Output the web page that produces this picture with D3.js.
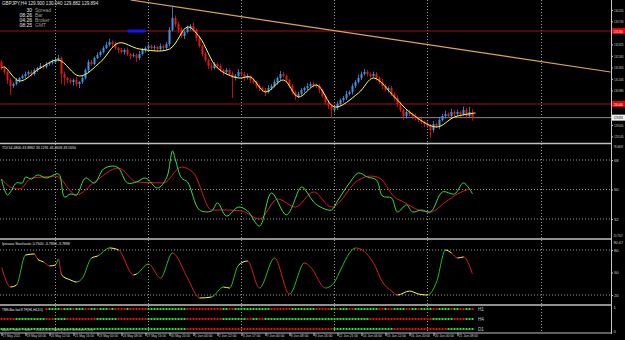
<!DOCTYPE html>
<html>
<head>
<meta charset="utf-8">
<script src="https://cdn.jsdelivr.net/npm/d3@7"></script>
<style>
  body { margin: 0; background: #000; }
  svg { display: block; font-family: "Liberation Sans", Arial, sans-serif; }
  .ax path, .ax line { stroke: #c8c8c8; }
  .ax text { fill: #d0d0d0; font-size: 4.2px; }
</style>
</head>
<body>
<div id="canvas"></div>
<script>
// ---- data ----
const symbolLine = "GBPJPY,H4  129.900 130.040 129.882 129.894";
const infoNums = ["30", "08:26", "04:26", "08:25"];
const infoNames = ["Spread", "Bar", "Broker", "GMT"];

const firstOpen = 132.12;
const closes = [
  131.88,131.72,131.40,131.16,131.24,131.40,131.48,131.56,131.64,131.72,
  131.64,131.80,131.88,131.96,131.92,132.04,132.08,132.12,132.20,132.28,
  131.64,131.48,131.40,131.32,131.40,131.24,131.32,131.48,131.80,132.12,
  132.04,132.28,132.40,132.52,132.68,132.80,132.92,132.84,132.68,132.60,
  132.52,132.60,132.44,132.36,132.40,132.28,132.44,132.60,132.68,132.76,
  132.68,132.72,132.64,132.76,132.68,132.84,133.40,133.88,133.64,133.40,
  133.16,133.32,133.48,133.56,133.40,133.08,132.76,132.44,132.20,131.96,
  131.88,132.04,131.96,131.80,131.72,131.80,131.64,131.48,131.56,131.72,
  131.64,131.48,131.56,131.40,131.32,131.16,131.08,131.00,130.92,131.08,
  131.16,131.32,131.48,131.64,131.56,131.40,131.16,130.92,130.76,130.84,
  131.00,131.08,131.16,131.24,131.20,131.16,131.00,130.76,130.52,130.36,
  130.20,130.28,130.44,130.60,130.68,130.84,130.92,131.16,131.32,131.48,
  131.64,131.72,131.64,131.56,131.64,131.48,131.32,131.16,131.00,131.08,
  130.84,130.68,130.44,130.20,129.96,130.12,130.04,129.96,129.88,129.80,
  129.72,129.64,129.56,129.40,129.64,129.56,129.80,129.96,130.04,129.96,
  130.12,130.04,130.12,130.04,130.20,129.96,130.12,129.894
];
// wick lengths in pips above / below the body
const wickUp = [
  8,4,6,10,6,8,4,6,10,6, 8,6,4,12,6,8,6,10,8,12, 6,10,4,8,6,12,4,8,6,10,
  8,6,10,6,8,12,14,6,10,4, 8,6,10,4,8,6,12,8,6,10, 6,8,4,10,6,8,12,50,10,8,
  12,6,10,8,14,6,10,4,8,6, 12,8,6,10,4,8,6,10,8,12, 6,8,10,4,8,6,10,6,8,12,
  8,10,6,12,8,6,4,8,6,10, 8,6,12,8,10,6,8,4,6,8, 6,8,10,6,8,12,6,10,8,14,
  10,12,8,6,10,8,6,12,8,6, 8,6,10,8,6,12,8,6,10,4, 8,6,10,8,12,6,10,8,14,6,
  12,8,10,6,14,8,20,10
];
const wickDn = [
  6,10,16,36,8,6,10,4,8,6, 10,6,8,4,10,6,8,6,4,6, 40,30,12,8,14,10,16,8,6,10,
  8,6,4,8,6,4,6,10,8,12, 6,10,8,12,6,16,8,6,10,8, 6,10,8,6,12,8,10,6,12,10,
  8,12,6,10,8,12,6,10,8,12, 10,6,12,8,14,10,8,80,10,6, 8,10,6,12,8,10,12,8,16,6,
  8,6,10,8,6,10,8,10,16,8, 6,10,8,6,10,8,12,8,10,12, 32,10,8,6,10,8,6,10,8,6,
  8,6,10,8,6,10,8,12,6,10, 8,10,12,8,16,10,8,12,10,8, 10,12,8,32,10,8,12,6,10,8,
  6,10,8,12,6,10,8,12
];

// moving average (yellow) read at key bars
const maBars = [0,1,6,13,19,26,33,39,46,56,62,66,72,79,83,88,94,99,105,111,119,124,131,136,145,151,158];
const maVals = [131.88,131.92,131.36,131.88,132.20,131.56,132.12,132.88,132.64,132.64,133.52,133.12,131.88,131.48,131.52,130.92,131.40,130.72,131.20,130.32,130.88,131.48,130.72,130.12,129.52,129.92,130.08];

const priceTicks = [134.205,133.745,133.285,132.825,132.365,131.905,131.445,130.985,130.525,130.065,129.605,129.145];
const redLevels = [133.360, 130.440];
const lastPrice = 129.894;
const trendBars = [43, 203];
const trendVals = [134.60, 131.72];
const boxBars = [42, 48];
const boxVals = [133.42, 133.30];

const gridBars = [18, 49, 80, 111, 142, 180];
const timeLabels = ["17 May 2011","19 May 04:00","20 May 12:00","21 May 16:00","23 May 00:00",
  "24 May 08:00","27 May 16:00","30 May 20:00","1 Jun 04:00","2 Jun 12:00","3 Jun 17:00",
  "7 Jun 00:00","8 Jun 08:00","9 Jun 16:00","12 Jun 21:00","14 Jun 04:00","15 Jun 12:00",
  "16 Jun 20:00","20 Jun 00:00","21 Jun 08:00"];

// TDI
const tdiTitle = "TDI 54.4800 43.8962 33.1291 46.2608 49.1650";
const tdiLevels = [68, 50, 32];
const tdiTop = "78.0609", tdiBottom = "20.7107";
const tdiGreenBars = [0,2,5,7,8,10,12,15,19,21,23,25,28,31,34,37,39,42,45,48,52,55,57,58,60,62,66,70,72,75,79,82,86,90,95,100,102,104,107,110,112,116,119,122,125,127,130,132,135,137,140,143,147,151,154,157];
const tdiGreen = [56.4,46.7,54.0,54.0,57.6,56.4,58.9,57.0,59.5,45.4,47.3,46.7,57.0,54.0,62.5,64.3,63.1,54.0,54.6,57.0,50.9,57.0,73.5,68.0,57.0,54.6,37.5,36.9,41.8,33.8,39.3,36.9,27.7,47.9,34.5,51.5,47.9,42.4,38.7,37.5,43.0,54.0,60.1,57.6,55.8,46.0,44.8,36.3,40.6,36.3,37.5,36.3,48.5,47.3,54.0,47.3];
const tdiRedBars = [0,3,6,10,14,18,25,31,39,45,54,60,64,70,75,80,86,92,98,104,110,119,123,126,131,134,139,143,148,152,156];
const tdiRed = [56.4,51.5,50.3,57.0,57.6,58.2,46.7,54.6,63.1,54.6,54.0,63.7,60.1,37.5,37.5,36.9,32.0,44.2,39.3,48.5,39.3,55.8,58.2,57.0,45.4,42.4,37.5,36.3,42.4,47.3,50.3];

// Stochastic
const stTitle = "Ipnuaro Stochastic 0.7500 -3.7890 -3.7898";
const stLevels = [80, 50, 20];
const stTop = "90.67";
const stBars = [0,3,5,8,11,12,14,16,18,19,20,23,25,27,30,32,36,39,44,45,49,53,57,62,66,70,74,76,79,82,86,91,96,101,103,108,111,113,116,118,124,127,130,132,136,139,142,145,148,150,152,154,157];
const stVals = [57.3,30.7,33.3,73.3,74.7,68.0,64.0,58.7,60.0,68.0,46.7,40.0,37.3,42.7,69.3,72.0,82.7,80.0,46.7,48.0,61.3,42.7,76.0,42.7,16.0,17.3,30.7,29.3,60.0,65.3,29.3,69.3,21.3,62.7,57.3,29.3,37.3,53.3,76.0,82.7,62.7,37.3,25.3,20.0,25.3,21.3,20.0,37.3,80.0,76.0,69.3,70.7,48.0];

// multi-timeframe dots
const dotTitle = "TMS-Bar-Ival 8 TF(H1,H4,D1)";
const dotCopy = "Alpari Power Trader \u00a9 2001-2011 MetaQuotes Software Corp.";
const dotNames = ["H1", "H4", "D1"];
const dotsH1 = ["gggrgggrggrgggrrgg","ggrgggrgggrrggrgggrg","rrrrgrrrrrr","ggggggggggggg","rrrrrrrrrrrr",
  "ggrrgg","gggggggggg","rrrrrrr","gggggggg","rrrrr","ggrgggrrgg","gggggg","rrgrrgg",
  "ggrrggrggggrrggggrggrrggr"].join("");
const dotsH4 = ["rrrrr","gggggggggg","rrr","gggg","rrrrrrrrrr","ggggggg","rrrrrrrrrr","ggggggggggggg",
  "rrrrrrrrrrrr","ggggggg","grrggrrgg","ggggggggggggggggggggg","gggggggggggg",
  "rrrrrrrrrrrrrrrrrrrrr","ggggggg","rrrr","ggg"].join("");
const dotsD1 = ["gggggggggggggggggggggggggggggggggggggggggggggggggggggggggggggg",
  "rrrrrrrrrrrrrrrrrrrrrrrrrrrrrrrrrrrrrrrrrrrrrrrrr","gggggggggggggggggggg",
  "rrrrrrrrrrrrrrrrrr","ggggggggg"].join("");

// ---- drawing ----
const width = 625, height = 340, axisX = 611;
const svg = d3.select("#canvas").append("svg").attr("width", width).attr("height", height);
svg.append("rect").attr("width", width).attr("height", height).attr("fill", "#000");

const x = d3.scaleLinear().domain([0, 203]).range([1.5, 610.5]);
const y = d3.scaleLinear().domain([128.88, 134.60]).range([143, 0]);
const yT = d3.scaleLinear().domain([32, 68]).range([219, 160]);
const yS = d3.scaleLinear().domain([20, 80]).range([295, 250]);

// narrow a text horizontally so it fits maxW (the terminal font is very condensed)
function squeeze(sel, maxW) {
  sel.each(function () {
    const w = this.getComputedTextLength();
    if (w <= maxW) return;
    const s = maxW / w;
    const x0 = +this.getAttribute("x") || 0;
    this.setAttribute("x", x0 / s);
    this.setAttribute("transform", `scale(${s},1)`);
  });
  return sel;
}
const sideText = (yy, t, fill) => squeeze(svg.append("text").attr("x", axisX + 2.5).attr("y", yy)
  .attr("fill", fill || "#d0d0d0").attr("font-size", 4.2).text(t), 9.5);

const defs = svg.append("defs");
defs.append("clipPath").attr("id", "cMain").append("rect").attr("x", 0).attr("y", 0).attr("width", axisX).attr("height", 142);
defs.append("clipPath").attr("id", "cTdi").append("rect").attr("x", 0).attr("y", 145).attr("width", axisX).attr("height", 93);

// vertical grid
svg.append("g").selectAll("line").data(gridBars).enter().append("line")
  .attr("x1", d => x(d)).attr("x2", d => x(d)).attr("y1", 0).attr("y2", 333)
  .attr("stroke", "#9a9a9a").attr("stroke-dasharray", "1,2");

// ---- main panel ----
const main = svg.append("g").attr("clip-path", "url(#cMain)");

redLevels.forEach(v => main.append("line").attr("x1", 0).attr("x2", axisX)
  .attr("y1", y(v)).attr("y2", y(v)).attr("stroke", "#a01010"));
main.append("line").attr("x1", 0).attr("x2", axisX).attr("y1", y(lastPrice)).attr("y2", y(lastPrice))
  .attr("stroke", "#8a8a8a");

main.append("rect").attr("x", x(boxBars[0])).attr("width", x(boxBars[1]) - x(boxBars[0]))
  .attr("y", y(boxVals[0])).attr("height", y(boxVals[1]) - y(boxVals[0])).attr("fill", "#1414ff");

main.append("line").attr("x1", x(trendBars[0])).attr("y1", y(trendVals[0]))
  .attr("x2", x(trendBars[1])).attr("y2", y(trendVals[1])).attr("stroke", "#dfa35c").attr("stroke-width", 1.2);

const bars = closes.map((c, i) => {
  const o = i === 0 ? firstOpen : closes[i - 1];
  return { i, o, c, h: Math.max(o, c) + wickUp[i] / 100, l: Math.min(o, c) - wickDn[i] / 100 };
});
const col = d => d.c >= d.o ? "#3d93e8" : "#e8160e";
main.selectAll(".wick").data(bars).enter().append("line")
  .attr("x1", d => x(d.i)).attr("x2", d => x(d.i)).attr("y1", d => y(d.h)).attr("y2", d => y(d.l))
  .attr("stroke", col).attr("stroke-width", 0.8);
main.selectAll(".body").data(bars).enter().append("rect")
  .attr("x", d => x(d.i) - 1).attr("width", 2)
  .attr("y", d => y(Math.max(d.o, d.c)))
  .attr("height", d => Math.max(1, Math.abs(y(d.o) - y(d.c))))
  .attr("fill", col);

main.append("path").datum(maBars.map((b, i) => [b, maVals[i]]))
  .attr("d", d3.line().x(d => x(d[0])).y(d => y(d[1])).curve(d3.curveCatmullRom))
  .attr("fill", "none").attr("stroke", "#ffff5a").attr("stroke-width", 1);

svg.append("text").attr("x", 2).attr("y", 5).attr("fill", "#e0e0e0").attr("font-size", 4.6).text(symbolLine);
infoNums.forEach((t, i) => {
  svg.append("text").attr("x", 32).attr("y", 12 + i * 5).attr("text-anchor", "end")
    .attr("fill", "#e8e8e8").attr("font-size", 5).text(t);
  svg.append("text").attr("x", 35).attr("y", 12 + i * 5)
    .attr("fill", "#9a9a9a").attr("font-size", 5).text(infoNames[i]);
});

// price axis: ticks hidden under the level boxes are dropped, as on the terminal
const boxed = redLevels.concat([lastPrice]);
const shownTicks = priceTicks.filter(t => boxed.every(b => Math.abs(y(t) - y(b)) > 5));
const pAx = svg.append("g").attr("class", "ax").attr("transform", `translate(${axisX},0)`)
  .call(d3.axisRight(y).tickValues(shownTicks).tickSize(2).tickPadding(1).tickSizeOuter(0).tickFormat(d3.format(".3f")));
squeeze(pAx.selectAll("text"), 9.5);

redLevels.forEach(v => {
  svg.append("rect").attr("x", axisX + 1).attr("y", y(v) - 3).attr("width", 13).attr("height", 6).attr("fill", "#e00000");
  sideText(y(v) + 1.6, v.toFixed(3), "#fff");
});
svg.append("rect").attr("x", axisX + 1).attr("y", y(lastPrice) - 3).attr("width", 13).attr("height", 6).attr("fill", "#f0f0f0");
sideText(y(lastPrice) + 1.6, lastPrice.toFixed(3), "#000");

// ---- TDI panel ----
const tdi = svg.append("g").attr("clip-path", "url(#cTdi)");
tdi.selectAll(".lvl").data(tdiLevels).enter().append("line")
  .attr("x1", 0).attr("x2", axisX).attr("y1", d => yT(d)).attr("y2", d => yT(d))
  .attr("stroke", "#9a9a9a").attr("stroke-dasharray", "1,2");
tdi.append("path").datum(tdiRedBars.map((b, i) => [b, tdiRed[i]]))
  .attr("d", d3.line().x(d => x(d[0])).y(d => yT(d[1])).curve(d3.curveMonotoneX))
  .attr("fill", "none").attr("stroke", "#e01818").attr("stroke-width", 1);
tdi.append("path").datum(tdiGreenBars.map((b, i) => [b, tdiGreen[i]]))
  .attr("d", d3.line().x(d => x(d[0])).y(d => yT(d[1])).curve(d3.curveCatmullRom.alpha(0.5)))
  .attr("fill", "none").attr("stroke", "#3be03b").attr("stroke-width", 1);
squeeze(svg.append("text").attr("x", 2).attr("y", 149).attr("fill", "#e0e0e0").attr("font-size", 4.4).text(tdiTitle), 74);
const tAxR = svg.append("g").attr("class", "ax").attr("transform", `translate(${axisX},0)`)
  .call(d3.axisRight(yT).tickValues(tdiLevels).tickSize(2).tickPadding(1).tickSizeOuter(0).tickFormat(d3.format("d")));
squeeze(tAxR.selectAll("text"), 9.5);
sideText(148, tdiTop);
sideText(237.5, tdiBottom);

// ---- stochastic panel ----
svg.append("g").selectAll("line").data([80, 20]).enter().append("line")
  .attr("x1", 0).attr("x2", axisX).attr("y1", d => yS(d)).attr("y2", d => yS(d))
  .attr("stroke", "#9a9a9a").attr("stroke-dasharray", "1,2");
const sp = stBars.map((b, i) => [b, stVals[i]]);
const stPath = d3.line().x(d => x(d[0])).y(d => yS(d[1])).curve(d3.curveMonotoneX)(sp);
const colorOf = (a, b) => {
  const slope = (b[1] - a[1]) / (b[0] - a[0]);
  return slope > 2.5 ? "#22c022" : slope < -2.5 ? "#d82020" : "#ffff40";
};
["#22c022", "#d82020", "#ffff40"].forEach((c, k) => {
  const cp = defs.append("clipPath").attr("id", "st" + k);
  for (let i = 1; i < sp.length; i++) {
    if (colorOf(sp[i - 1], sp[i]) !== c) continue;
    cp.append("rect").attr("x", x(sp[i - 1][0])).attr("width", x(sp[i][0]) - x(sp[i - 1][0]) + 0.2)
      .attr("y", 240).attr("height", 65);
  }
  svg.append("path").attr("d", stPath).attr("clip-path", `url(#st${k})`)
    .attr("fill", "none").attr("stroke", c).attr("stroke-width", 1);
});
squeeze(svg.append("text").attr("x", 2).attr("y", 245).attr("fill", "#e0e0e0").attr("font-size", 4.4).text(stTitle), 68);
const sAxR = svg.append("g").attr("class", "ax").attr("transform", `translate(${axisX},0)`)
  .call(d3.axisRight(yS).tickValues(stLevels).tickSize(2).tickPadding(1).tickSizeOuter(0).tickFormat(d3.format("d")));
squeeze(sAxR.selectAll("text"), 9.5);
sideText(244, stTop);

// ---- dots panel ----
const rowsY = [309, 319, 329];
[dotsH1, dotsH4, dotsD1].forEach((s, r) => {
  svg.append("g").selectAll("rect").data(s.split("")).enter().append("rect")
    .attr("x", (d, i) => x(i) - 1).attr("y", rowsY[r] - 1).attr("width", 2).attr("height", 2)
    .attr("fill", d => d === "g" ? "#2ee02e" : "#e01414");
  svg.append("text").attr("x", 478).attr("y", rowsY[r] + 1.8).attr("fill", "#c8c8c8").attr("font-size", 4.6).text(dotNames[r]);
});
svg.append("rect").attr("x", 0).attr("y", 306).attr("width", 45).attr("height", 6).attr("fill", "#000");
squeeze(svg.append("text").attr("x", 2).attr("y", 311).attr("fill", "#f0f0f0").attr("font-size", 4.4).text(dotTitle), 41);
squeeze(svg.append("text").attr("x", 2).attr("y", 331).attr("fill", "#b0b0b0").attr("font-size", 4.2).text(dotCopy), 92);
sideText(309, "1");
sideText(333, "0");

// panel separators and right edge
[143.5, 239, 305, 333].forEach((v, i) => svg.append("line").attr("x1", 0).attr("x2", axisX)
  .attr("y1", v).attr("y2", v).attr("stroke", "#c0c0c0").attr("stroke-width", i === 3 ? 1 : 1.6));
svg.append("line").attr("x1", axisX + 0.5).attr("x2", axisX + 0.5).attr("y1", 0).attr("y2", 334).attr("stroke", "#c8c8c8");

// time axis
const tAx = svg.append("g").attr("class", "ax").attr("transform", "translate(0,333)")
  .call(d3.axisBottom(x).tickValues(timeLabels.map((t, i) => i * 8)).tickSize(3).tickSizeOuter(0)
    .tickFormat((d, i) => timeLabels[i]));
tAx.select(".domain").remove();
tAx.selectAll("text").attr("text-anchor", "start").attr("dx", 1).attr("y", 1.2).attr("font-size", 3.8);
tAx.selectAll("text").each(function (d, i) { squeeze(d3.select(this), timeLabels[i].length * 1.6); });
</script>
</body>
</html>
